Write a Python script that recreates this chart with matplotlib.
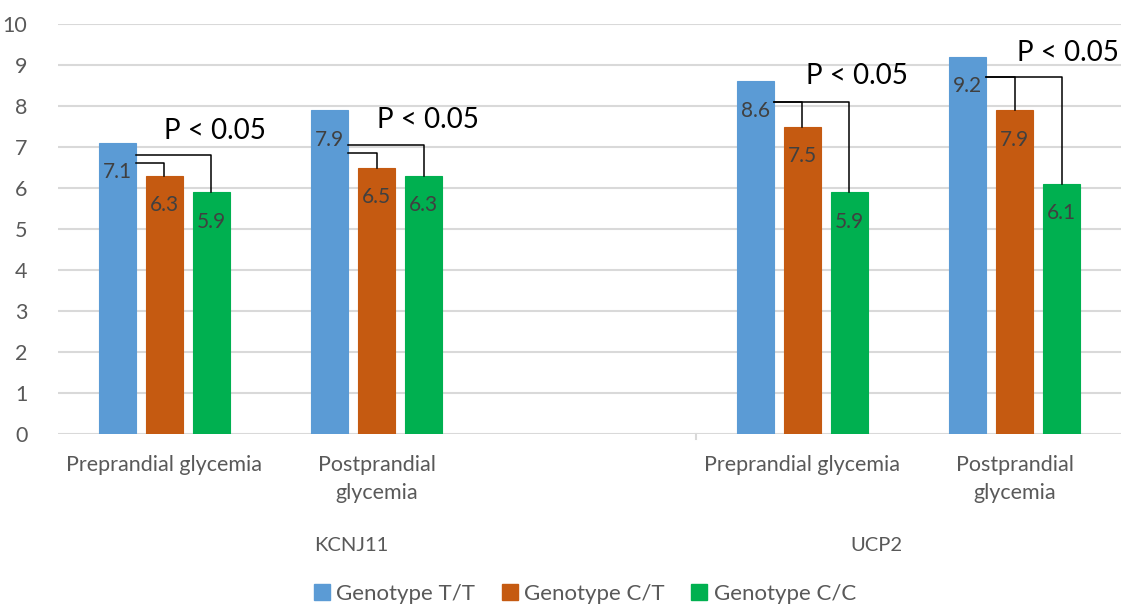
import matplotlib.pyplot as plt
from matplotlib.patches import Patch

plt.rcParams['font.family'] = ['Lato', 'DejaVu Sans']

# slots: KCNJ11 pre/post, empty gap, UCP2 pre/post
slots = [0, 1, 3, 4]
cat_labels = ["Preprandial glycemia", "Postprandial\nglycemia",
              "Preprandial glycemia", "Postprandial\nglycemia"]
genes = ["KCNJ11", "UCP2"]
gene_pos = [0.88, 3.35]
series = ["Genotype T/T", "Genotype C/T", "Genotype C/C"]
tt = [7.1, 7.9, 8.6, 9.2]
ct = [6.3, 6.5, 7.5, 7.9]
cc = [5.9, 6.3, 5.9, 6.1]
colors = ["#5B9BD5", "#C55A11", "#00B050"]

# bracket heights and p-value text (per category)
br_ct = [6.6, 6.85, 8.1, 8.7]
br_cc = [6.8, 7.05, 8.1, 8.7]
p_text = "P < 0.05"
p_x = [0.24, 1.24, 3.26, 4.25]
p_y = [7.4, 7.66, 8.72, 9.29]

fig = plt.figure(figsize=(11.25, 6.08), dpi=100)
ax = fig.add_axes([58 / 1125, 1 - 434 / 608, (1121 - 58) / 1125, 410 / 608])

w = 0.174
off = 0.221
for k, vals in enumerate([tt, ct, cc]):
    xs = [s + (k - 1) * off for s in slots]
    ax.bar(xs, vals, width=w, color=colors[k], edgecolor=colors[k], linewidth=0.8, zorder=3)
    for x, v in zip(xs, vals):
        ax.text(x, v - 0.72, f"{v:.1f}", ha='center', va='center', fontsize=15,
                color='#404040', zorder=5)

# significance brackets
for i, s in enumerate(slots):
    xb = s - off + w / 2
    xo = s
    xg = s + off
    ax.plot([xb, xo, xo], [br_ct[i], br_ct[i], ct[i]], color='black', lw=1.1, zorder=4)
    ax.plot([xb, xg, xg], [br_cc[i], br_cc[i], cc[i]], color='black', lw=1.1, zorder=4)
    ax.text(p_x[i], p_y[i], p_text, ha='center', va='center', fontsize=20, color='black')

ax.set_xlim(-0.5, 4.5)
ax.set_ylim(0, 10)
ax.set_yticks(range(0, 11))
ax.tick_params(axis='y', length=0, labelsize=15.5, labelcolor='#595959', pad=22)
ax.set_xticks([])
for sp in ax.spines.values():
    sp.set_visible(False)
ax.grid(axis='y', color='#D9D9D9', lw=1.5, zorder=0)

trans = ax.get_xaxis_transform()
# divider tick between groups
ax.plot([2.5, 2.5], [0, -0.012], color='#D9D9D9', lw=1.5, transform=trans, clip_on=False)

for s, lab in zip(slots, cat_labels):
    ax.text(s, -0.052, lab, ha='center', va='top', fontsize=15.5, color='#595959',
            linespacing=1.45, transform=trans)
for x, g in zip(gene_pos, genes):
    ax.text(x, -0.273, g, ha='center', va='center', fontsize=14.5, color='#595959',
            transform=trans)

handles = [Patch(color=c) for c in colors]
fig.legend(handles, series, loc='center', bbox_to_anchor=(0.52, 1 - 594 / 608), ncol=3,
           frameon=False, fontsize=16, handlelength=0.7, handleheight=0.7,
           handletextpad=0.3, columnspacing=1.2, labelcolor='#595959')

fig.savefig("out.png", dpi=100)
